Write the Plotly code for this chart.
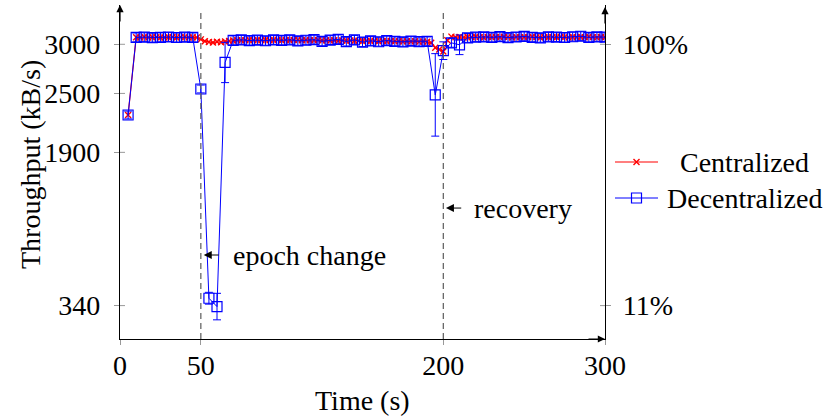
import plotly.graph_objects as go

# ---------------- data ----------------
cent_time = [5] + [10 + 2.5 * i for i in range(117)]
cent_thr = (
    [2280]
    + [3072, 3070, 3074, 3069, 3071, 3073, 3070, 3068, 3072, 3074, 3069, 3071, 3073, 3070, 3072, 3069]
    + [3050, 3032, 3024, 3018, 3026, 3020, 3028, 3034]
    + [3038, 3040, 3042, 3041, 3043, 3040, 3044, 3042, 3045, 3041,
       3043, 3046, 3042, 3044, 3040, 3043, 3045, 3041, 3044, 3042,
       3040, 3043, 3039, 3041, 3038, 3040, 3037, 3039, 3036, 3038,
       3035, 3037, 3034, 3036, 3033, 3035, 3032, 3034, 3031, 3033,
       3030, 3032, 3029, 3031, 3028, 3030, 3027, 3029, 3026]
    + [3015, 2965, 2948, 2926, 3040, 3078]
    + [3072, 3075, 3070, 3074, 3071, 3076, 3073, 3070, 3075, 3072,
       3074, 3071, 3076, 3073, 3070, 3075, 3072, 3074, 3071, 3076,
       3073, 3070, 3075, 3072, 3074, 3071, 3076, 3073, 3070, 3075,
       3072, 3074, 3071, 3076, 3073, 3070, 3075, 3072]
)

dec_time = [5 * (i + 1) for i in range(60)]
dec_thr = [
    2280, 3070, 3072, 3068, 3071, 3074, 3069, 3072, 3070,
    2545, 415, 330, 2815,
    3040, 3045, 3038, 3042, 3036, 3044, 3040, 3046, 3035, 3041, 3047,
    3030, 3043, 3050, 3028, 3045, 3022, 3035, 3026, 3038, 3030, 3025,
    3033, 3028, 3030,
    2485, 2935, 3015, 2995,
    3065, 3072, 3075, 3070, 3078, 3068, 3074, 3080, 3071, 3066, 3076,
    3073, 3069, 3077, 3082, 3070, 3075, 3072,
]
dec_err = [
    40, 45, 45, 45, 45, 45, 45, 45, 45,
    40, 60, 135, 205,
    45, 45, 45, 45, 45, 45, 45, 45, 45, 45, 45,
    45, 45, 45, 45, 45, 45, 45, 45, 45, 45, 45,
    45, 45, 45,
    420, 90, 45, 100,
    45, 45, 45, 45, 45, 45, 45, 45, 45, 45, 45,
    45, 45, 45, 45, 45, 45, 45,
]

x_ticks = [0, 50, 200, 300]
y_ticks = [340, 1900, 2500, 3000]
y_ticklabels = ["340", "1900", "2500", "3000"]
pct_ticks = [340 / 30, 100]
pct_ticklabels = ["11%", "100%"]
event_times = [50, 200]
series_names = ["Centralized", "Decentralized"]

# ---------------- geometry helpers ----------------
W, H = 830, 417
L, R, T, B = 120, 0, 5, 78
PW = W - L - R
PH = H - T - B
X_END = 605  # px of right axis


def px_x(p):
    return (p - L) / PW


def px_y(q):
    return (H - B - q) / PH


FONT = "Liberation Serif"
FS = 28
RED = "#ff0000"
BLUE = "#0000ff"
TICKC = "#999999"

fig = go.Figure()

fig.add_trace(go.Scatter(
    x=cent_time, y=cent_thr, mode="lines+markers", name=series_names[0],
    line=dict(color=RED, width=1.2),
    marker=dict(symbol="x-thin", size=6, line=dict(color=RED, width=1.4), color=RED),
    showlegend=False,
))
fig.add_trace(go.Scatter(
    x=dec_time, y=dec_thr, mode="lines+markers", name=series_names[1],
    line=dict(color=BLUE, width=1),
    marker=dict(symbol="square-open", size=10, color=BLUE, line=dict(width=1.2)),
    error_y=dict(type="data", array=dec_err, visible=True, color=BLUE, thickness=1, width=4),
    showlegend=False,
))
# dummy trace to activate right axis
fig.add_trace(go.Scatter(x=[0], y=[0], yaxis="y2", mode="markers",
                         marker=dict(opacity=0), showlegend=False, hoverinfo="skip"))

# legend samples (own small subplot)
leg_rows = [px_y(162), px_y(198)]
fig.add_trace(go.Scatter(x=[0, 1], y=[leg_rows[0]] * 2, xaxis="x3", yaxis="y3", mode="lines",
                         line=dict(color=RED, width=1.2), showlegend=False, hoverinfo="skip"))
fig.add_trace(go.Scatter(x=[0.5], y=[leg_rows[0]], xaxis="x3", yaxis="y3", mode="markers",
                         marker=dict(symbol="x-thin", size=6, line=dict(color=RED, width=1.4)),
                         showlegend=False, hoverinfo="skip"))
fig.add_trace(go.Scatter(x=[0, 1], y=[leg_rows[1]] * 2, xaxis="x3", yaxis="y3", mode="lines",
                         line=dict(color=BLUE, width=1), showlegend=False, hoverinfo="skip"))
fig.add_trace(go.Scatter(x=[0.5], y=[leg_rows[1]], xaxis="x3", yaxis="y3", mode="markers",
                         marker=dict(symbol="square-open", size=10, color=BLUE, line=dict(width=1.2)),
                         showlegend=False, hoverinfo="skip"))

xdom_end = px_x(X_END)
axis_common = dict(showline=True, linecolor="black", linewidth=1.2, showgrid=False, zeroline=False,
                   ticks="outside", ticklen=5, tickcolor=TICKC, tickwidth=1,
                   tickfont=dict(family=FONT, size=FS, color="black"))

fig.update_layout(
    width=W, height=H, autosize=False,
    margin=dict(l=L, r=R, t=T, b=B, pad=0, autoexpand=False),
    plot_bgcolor="white", paper_bgcolor="white",
    font=dict(family=FONT, size=FS, color="black"),
    xaxis=dict(domain=[0, xdom_end], range=[0, 300], tickvals=x_ticks,
               ticklabelstandoff=-4, **axis_common),
    yaxis=dict(range=[0, 3400], tickvals=y_ticks, ticktext=y_ticklabels,
               ticklabelstandoff=8, **axis_common),
    yaxis2=dict(overlaying="y", side="right", anchor="x", range=[0, 3400 / 30],
                tickvals=pct_ticks, ticktext=pct_ticklabels, ticklabelstandoff=6, **axis_common),
    xaxis3=dict(domain=[px_x(615), px_x(658)], range=[0, 1], visible=False, anchor="y3"),
    yaxis3=dict(domain=[0, 1], range=[0, 1], visible=False, anchor="x3"),
    showlegend=False,
)

shapes = []
# dashed event lines
for t in event_times:
    shapes.append(dict(type="line", xref="x", yref="y", x0=t, x1=t, y0=0, y1=3350,
                       line=dict(color="#666666", width=1.3, dash="6px,4px")))
# inner halves of tick marks
tick_in = 5
for v in y_ticks:
    shapes.append(dict(type="line", xref="paper", yref="y", x0=0, x1=tick_in / PW, y0=v, y1=v,
                       line=dict(color=TICKC, width=1)))
for v in pct_ticks:
    shapes.append(dict(type="line", xref="paper", yref="y2", x0=xdom_end - tick_in / PW, x1=xdom_end,
                       y0=v, y1=v, line=dict(color=TICKC, width=1)))
fig.update_layout(shapes=shapes)

ann = []
# axis arrows
ann.append(dict(x=0, y=3400, xref="x", yref="y", ax=0, ay=18, text="", showarrow=True,
                arrowhead=2, arrowsize=1.2, arrowwidth=1.2, arrowcolor="black"))
ann.append(dict(x=300, y=3380, xref="x", yref="y", ax=0, ay=18, text="", showarrow=True,
                arrowhead=2, arrowsize=1.2, arrowwidth=1.2, arrowcolor="black"))
ann.append(dict(x=300, y=0, xref="x", yref="y", ax=-18, ay=0, text="", showarrow=True,
                arrowhead=2, arrowsize=1.2, arrowwidth=1.2, arrowcolor="black"))
# event annotations
ann.append(dict(x=51.8, y=855, xref="x", yref="y", ax=62, ay=855, axref="x", ayref="y", text="",
                showarrow=True, arrowhead=2, arrowsize=1.6, arrowwidth=1, arrowcolor="black"))
ann.append(dict(x=px_x(231), y=855, xref="paper", yref="y", text="epoch change", showarrow=False,
                xanchor="left", yanchor="middle", font=dict(family=FONT, size=FS)))
ann.append(dict(x=201.6, y=1333, xref="x", yref="y", ax=212, ay=1333, axref="x", ayref="y", text="",
                showarrow=True, arrowhead=2, arrowsize=1.6, arrowwidth=1, arrowcolor="black"))
ann.append(dict(x=px_x(472), y=1333, xref="paper", yref="y", text="recovery", showarrow=False,
                xanchor="left", yanchor="middle", font=dict(family=FONT, size=FS)))
# legend texts
for name, row in zip(series_names, [162, 198]):
    ann.append(dict(x=px_x(744), y=px_y(row), xref="paper", yref="paper", text=name, showarrow=False,
                    xanchor="center", yanchor="middle", font=dict(family=FONT, size=FS)))
# axis titles
ann.append(dict(x=px_x(30), y=px_y(165), xref="paper", yref="paper", text="Throughput (kB/s)",
                textangle=-90, showarrow=False, xanchor="center", yanchor="middle",
                font=dict(family=FONT, size=FS)))
ann.append(dict(x=px_x(362.5), y=px_y(400), xref="paper", yref="paper", text="Time (s)",
                showarrow=False, xanchor="center", yanchor="middle", font=dict(family=FONT, size=FS)))
fig.update_layout(annotations=ann)

post = (
    "document.body.style.margin='0';document.body.style.padding='0';"
    "document.body.style.overflow='hidden';"
    "var gd=document.getElementById('{plot_id}');"
    "Plotly.relayout(gd,{width:%d,height:%d});" % (W, H)
)
fig.write_html("out.html", post_script=post, config={"displayModeBar": False})
